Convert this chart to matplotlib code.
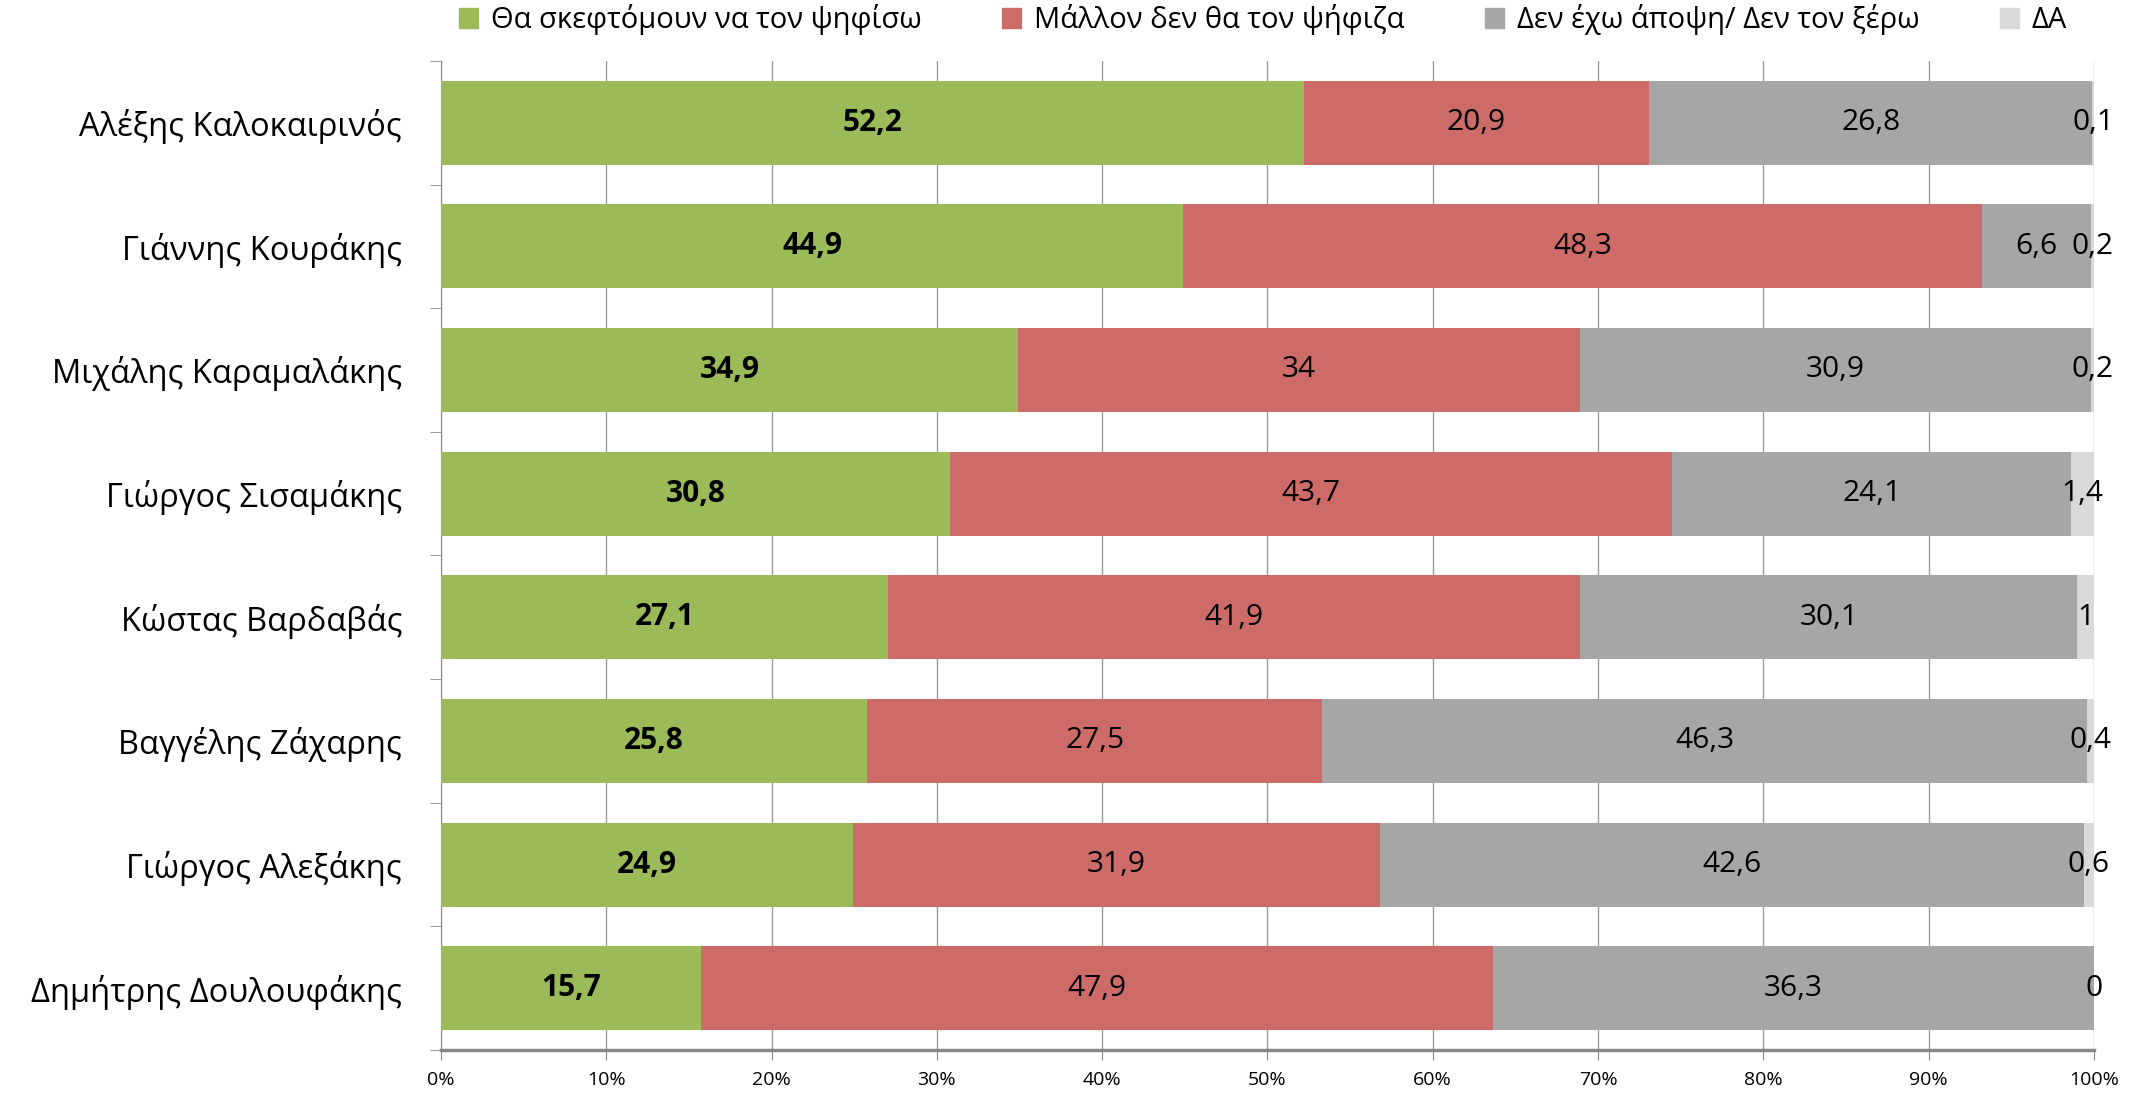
import numpy as np
import matplotlib
matplotlib.use("Agg")
import matplotlib.pyplot as plt
from matplotlib.ticker import FixedLocator, FuncFormatter
from matplotlib.patches import Patch

plt.rcParams['font.family'] = ['Open Sans', 'DejaVu Sans']

# data
candidates = ["Αλέξης Καλοκαιρινός", "Γιάννης Κουράκης", "Μιχάλης Καραμαλάκης",
              "Γιώργος Σισαμάκης", "Κώστας Βαρδαβάς", "Βαγγέλης Ζάχαρης",
              "Γιώργος Αλεξάκης", "Δημήτρης Δουλουφάκης"]
series_names = ["Θα σκεφτόμουν να τον ψηφίσω", "Μάλλον δεν θα τον ψήφιζα",
                "Δεν έχω άποψη/ Δεν τον ξέρω", "ΔΑ"]
would_vote = [52.2, 44.9, 34.9, 30.8, 27.1, 25.8, 24.9, 15.7]
would_not = [20.9, 48.3, 34, 43.7, 41.9, 27.5, 31.9, 47.9]
no_opinion = [26.8, 6.6, 30.9, 24.1, 30.1, 46.3, 42.6, 36.3]
no_answer = [0.1, 0.2, 0.2, 1.4, 1, 0.4, 0.6, 0]
colors = ["#9BBB59", "#CD6B69", "#A6A6A6", "#D9D9D9"]

values = np.array([would_vote, would_not, no_opinion, no_answer], dtype=float)
shares = values / values.sum(axis=0)  # 100% stacked


def fmt_num(v):
    return ("%g" % v).replace(".", ",")


fig = plt.figure(figsize=(21.33, 10.93), dpi=100)
ax = fig.add_axes([0.2067, 0.0393, 0.7750, 0.9050])

y = np.arange(len(candidates))
left = np.zeros(len(candidates))
for k in range(4):
    ax.barh(y, shares[k], left=left, height=0.68, color=colors[k], zorder=3)
    for i in range(len(candidates)):
        cx = left[i] + shares[k][i] / 2
        ax.text(cx, y[i], fmt_num(values[k][i]), ha="center", va="center",
                fontsize=21.5, color="black",
                fontweight="bold" if k == 0 else "normal", zorder=4)
    left += shares[k]

ax.set_xlim(0, 1)
ax.set_ylim(len(candidates) - 0.5, -0.5)

ax.xaxis.set_major_locator(FixedLocator(np.linspace(0, 1, 11)))
ax.xaxis.set_major_formatter(FuncFormatter(lambda v, p: "%d%%" % round(v * 100)))
ax.tick_params(axis="x", direction="out", length=7, color="#888888", labelsize=14, pad=8)
ax.grid(axis="x", color="#9A9A9A", lw=1, zorder=0)

ax.set_yticks(y)
ax.set_yticklabels(candidates, fontsize=23.5)
ax.yaxis.set_minor_locator(FixedLocator(np.arange(-0.5, len(candidates), 1)))
ax.tick_params(axis="y", which="major", length=0, pad=28)
ax.tick_params(axis="y", which="minor", length=8, color="#888888", direction="out")

for s in ["top", "right"]:
    ax.spines[s].set_visible(False)
ax.spines["left"].set_color("#888888")
ax.spines["bottom"].set_color("#888888")
ax.spines["bottom"].set_linewidth(2.5)

handles = [Patch(color=c) for c in colors]
fig.legend(handles, series_names, loc="center left", bbox_to_anchor=(0.203, 0.982),
           ncol=4, frameon=False, fontsize=21, handlelength=0.65, handleheight=0.65,
           handletextpad=0.45, columnspacing=2.75)

fig.savefig("out.png", dpi=100)
